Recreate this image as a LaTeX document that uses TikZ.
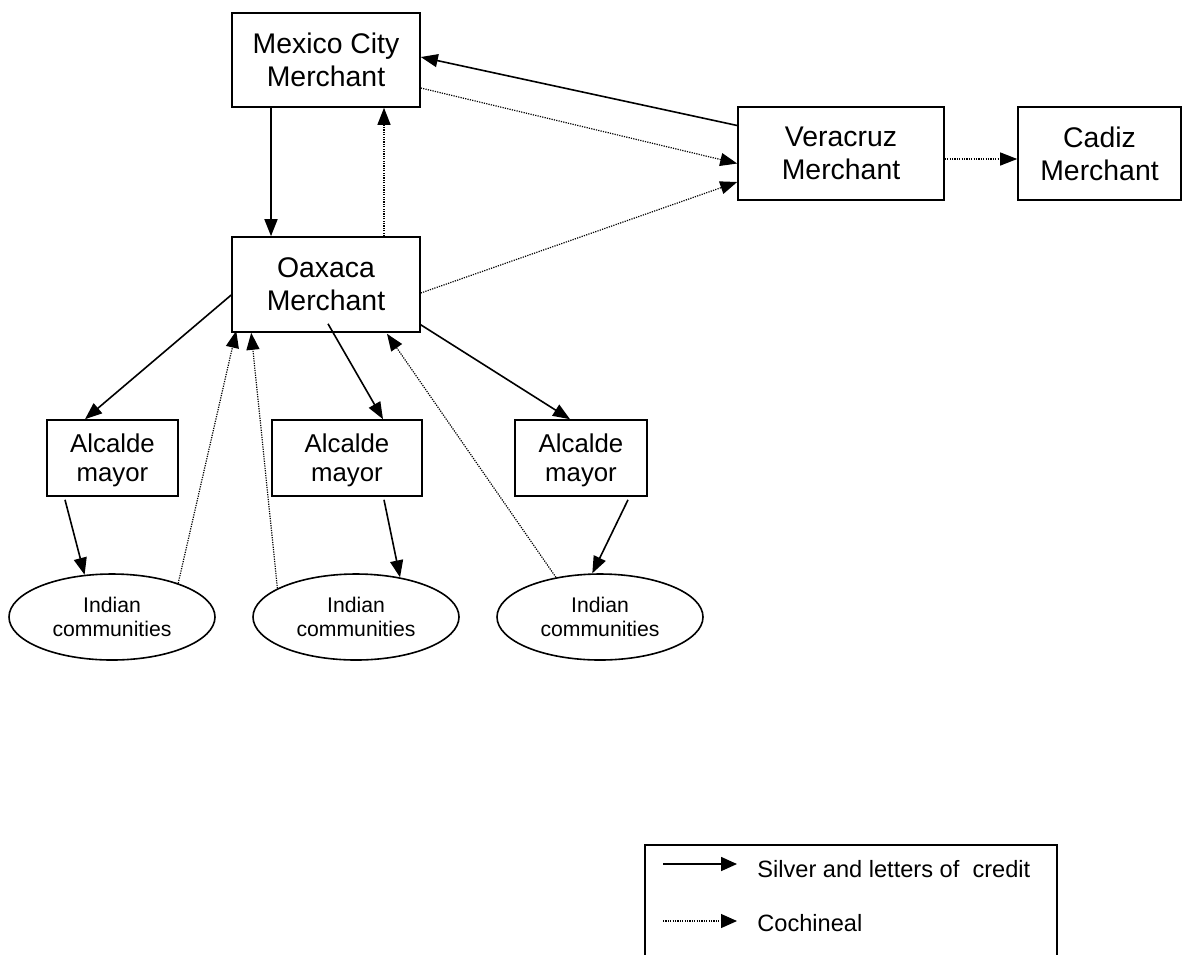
\documentclass[tikz,border=0pt]{standalone}
\usepackage{fontspec}
\setmainfont{Liberation Sans}
\usetikzlibrary{arrows.meta,positioning,calc,shapes.geometric}

\begin{document}
\begin{tikzpicture}
[x=0.5pt,y=-0.5pt,>={Triangle[length=8.5pt,width=6.5pt]},
 box/.style={draw,line width=0.8pt,align=center,inner sep=0pt,font=\fontsize{14.2}{16.5}\selectfont},
 alc/.style={box,minimum height=38pt,text depth=0pt,font=\fontsize{12.9}{14.5}\selectfont},
 comm/.style={ellipse,draw,line width=0.8pt,minimum width=103pt,minimum height=43pt,inner sep=0pt,align=center,font=\fontsize{10.6}{12}\selectfont},
 silver/.style={->,line width=0.8pt},
 coch/.style={->,line width=0.6pt,dash pattern=on 0.6pt off 0.6pt}]
\useasboundingbox (0,0) rectangle (1182,954);
\node[box,minimum width=94pt,minimum height=47pt] (mc) at (326,60) {Mexico City\\Merchant};
\node[box,minimum width=94pt,minimum height=47.5pt] (oax) at (326,284.5) {Oaxaca\\Merchant};
\node[box,minimum width=103pt,minimum height=46.5pt] (ver) at (841,153.5) {Veracruz\\Merchant};
\node[box,minimum width=81.5pt,minimum height=46.5pt] (cad) at (1099.5,153.5) {Cadiz\\Merchant};
\node[alc,minimum width=65.5pt] (alc1) at (112.5,458) {Alcalde\\mayor};
\node[alc,minimum width=75pt] (alc2) at (347,458) {Alcalde\\mayor};
\node[alc,minimum width=66pt] (alc3) at (581,458) {Alcalde\\mayor};
\node[comm] (ind1) at (112,617) {Indian\\communities};
\node[comm] (ind2) at (356,617) {Indian\\communities};
\node[comm] (ind3) at (600,617) {Indian\\communities};
% silver and letters of credit
\draw[silver] ($(ver.west)+(0,-28)$) -- ($(mc.east)+(0,-3)$);
\draw[silver] ($(mc.south)+(-55,0)$) -- ($(oax.north)+(-55,0)$);
\draw[silver] ($(oax.west)+(0,10.5)$) -- ($(alc1.north)+(-27.5,0)$);
\draw[silver] ($(oax.south)+(2,-9)$) -- ($(alc2.north)+(36,0)$);
\draw[silver] ($(oax.south east)+(0,-8)$) -- ($(alc3.north)+(-11,0)$);
\draw[silver] ($(alc1.south)+(-47.5,3)$) -- (ind1.123);
\draw[silver] ($(alc2.south)+(37,3)$) -- (ind2.42);
\draw[silver] ($(alc3.south)+(47,3)$) -- (ind3.100);
% cochineal
\draw[coch] ($(mc.east)+(0,28)$) -- ($(ver.west)+(0,10)$);
\draw[coch] ($(oax.east)+(0,8.5)$) -- ($(ver.west)+(0,28.5)$);
\draw[coch] ($(oax.north)+(58,0)$) -- ($(mc.south)+(58,0)$);
\draw[coch] ($(ver.east)+(0,5.5)$) -- ($(cad.west)+(0,5.5)$);
\draw[coch] (ind1.27) -- ($(oax.south west)+(5,-2)$);
\draw[coch] (ind2.160) -- ($(oax.south west)+(20,0)$);
\draw[coch] (ind3.138) -- ($(oax.south)+(61,1)$);
% legend
\node[draw,line width=0.8pt,minimum width=206pt,minimum height=73pt,anchor=north west] (legend) at (644,844) {};
\coordinate (s1) at (663,864);
\coordinate (s2) at (737,864);
\coordinate (c1) at (663,921);
\coordinate (c2) at (737,921);
\draw[silver,>={Triangle[length=8pt,width=7pt]}] (s1) -- (s2);
\draw[coch,>={Triangle[length=8pt,width=7pt]}] (c1) -- (c2);
\node[anchor=base west,inner sep=0pt,font=\fontsize{11.8}{14}\selectfont] (silvertxt) at (757,877) {Silver and letters of\ \ credit};
\node[anchor=base west,inner sep=0pt,font=\fontsize{11.8}{14}\selectfont] (cochtxt) at (757,931) {Cochineal};
\end{tikzpicture}
\end{document}
